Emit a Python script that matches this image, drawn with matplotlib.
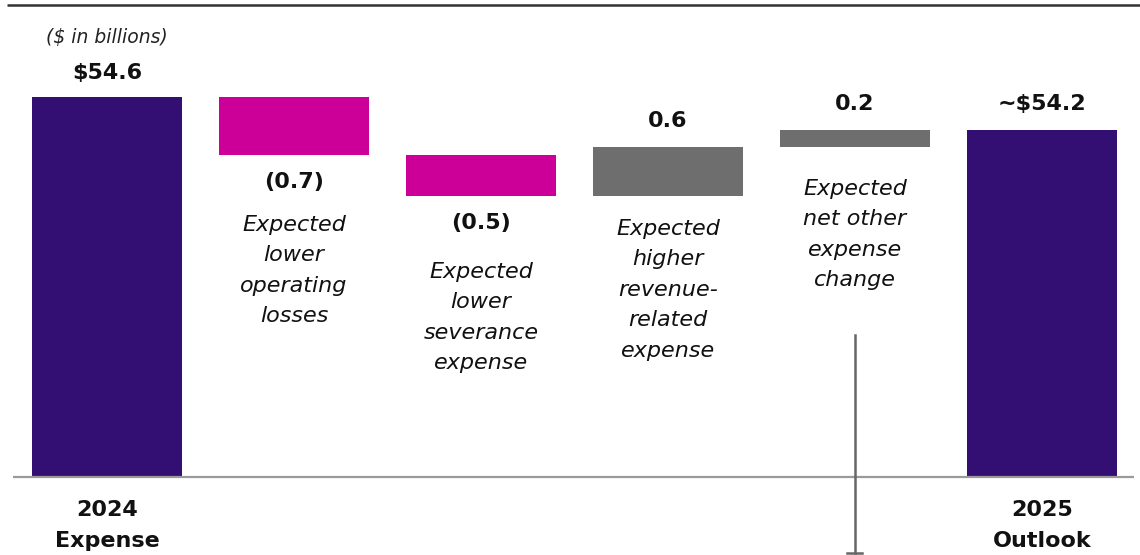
import matplotlib
matplotlib.use("Agg")
import matplotlib.pyplot as plt
import matplotlib.transforms as mtransforms

plt.rcParams["font.family"] = ["DejaVu Sans"]

# Waterfall data ($ in billions)
start_label = "2024\nExpense"
end_label = "2025\nOutlook"
start_value = 54.6
step_values = [-0.7, -0.5, 0.6, 0.2]
step_labels = ["(0.7)", "(0.5)", "0.6", "0.2"]
step_notes = [
    "Expected\nlower\noperating\nlosses",
    "Expected\nlower\nseverance\nexpense",
    "Expected\nhigher\nrevenue-\nrelated\nexpense",
    "Expected\nnet other\nexpense\nchange",
]
start_text = "$54.6"
end_text = "~$54.2"
axis_floor = 50.0

PURPLE = "#330F73"
MAGENTA = "#CC0099"
GRAY = "#6E6E6E"
INK = "#111111"

W, H = 1140, 555
fig = plt.figure(figsize=(W / 100, H / 100), dpi=100)
ax = fig.add_axes([0, 0, 1, 1])
ax.axis("off")

# category spacing / value scale
x0_px, dx_px = 107, 187
ax.set_xlim(-x0_px / dx_px, (W - x0_px) / dx_px)
px_per_unit = 82.6
base_px = 477  # baseline, pixels from top
ax.set_ylim(axis_floor - (H - base_px) / px_per_unit,
            axis_floor + base_px / px_per_unit)

n = len(step_values) + 2
bw = 150 / dx_px

# total columns
end_value = start_value + sum(step_values)
ax.bar(0, start_value - axis_floor, bottom=axis_floor, width=bw, color=PURPLE)
ax.bar(n - 1, end_value - axis_floor, bottom=axis_floor, width=bw, color=PURPLE)

# floating step columns
running = start_value
lows, highs = [], []
for i, v in enumerate(step_values):
    lo, hi = (running + v, running) if v < 0 else (running, running + v)
    ax.bar(i + 1, hi - lo, bottom=lo, width=bw,
           color=MAGENTA if v < 0 else GRAY)
    lows.append(lo)
    highs.append(hi)
    running += v

val_kw = dict(ha="center", va="center", fontsize=16, fontweight="bold",
              color=INK, textcoords="offset pixels")
note_kw = dict(ha="center", va="top", fontsize=16, fontstyle="italic",
               color=INK, linespacing=1.65)

ax.annotate(start_text, (0, start_value), xytext=(0, 24), **val_kw)
ax.annotate(end_text, (n - 1, end_value), xytext=(0, 26), **val_kw)

trans = mtransforms.blended_transform_factory(ax.transData, ax.transAxes)

# note top positions (pixels from top of figure)
note_tops = [215, 262, 219, 179]
for i, v in enumerate(step_values):
    if v < 0:
        ax.annotate(step_labels[i], (i + 1, lows[i]), xytext=(0, -27), **val_kw)
    else:
        ax.annotate(step_labels[i], (i + 1, highs[i]), xytext=(0, 26), **val_kw)
    ax.text(i + 1, 1 - note_tops[i] / H, step_notes[i], transform=trans, **note_kw)

# category labels under the totals
for x, lab in [(0, start_label), (n - 1, end_label)]:
    ax.text(x, 1 - 525.5 / H, lab, transform=trans, ha="center", va="center",
            fontsize=16, fontweight="bold", color=INK, linespacing=1.68)

ax.text(107 / W, 1 - 37 / H, "($ in billions)", transform=ax.transAxes,
        ha="center", va="center", fontsize=13.5, fontstyle="italic",
        color="#222222")

# baseline and top rule
ax.plot([13 / W, 1134 / W], [1 - base_px / H] * 2, transform=ax.transAxes,
        color="#9A9A9A", lw=1.6, solid_capstyle="butt", clip_on=False)
ax.plot([7 / W, 1.0], [1 - 5 / H] * 2, transform=ax.transAxes,
        color="#333333", lw=1.8, solid_capstyle="butt", clip_on=False)

# vertical marker with end cap below the net-other column
ax.plot([4, 4], [1 - 335 / H, 1 - 553 / H], transform=trans,
        color="#666666", lw=1.8, clip_on=False)
ax.plot([4 - 7.5 / dx_px, 4 + 7.5 / dx_px], [1 - 553 / H] * 2, transform=trans,
        color="#666666", lw=1.8, clip_on=False)

fig.savefig("out.png", dpi=100)
